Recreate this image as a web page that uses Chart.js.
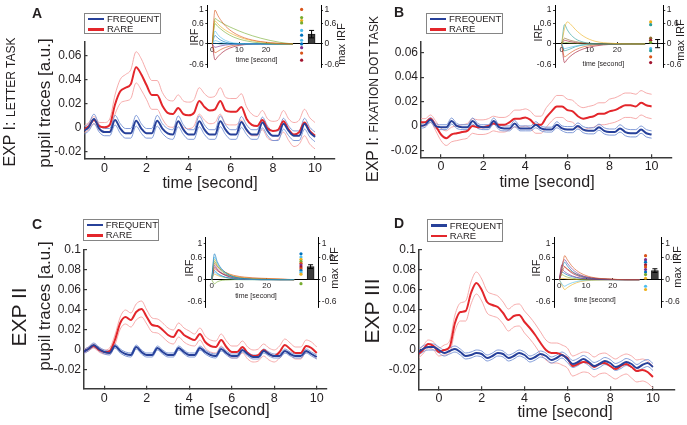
<!DOCTYPE html>
<html>
<head>
<meta charset="utf-8">
<script src="https://cdn.jsdelivr.net/npm/chart.js@4.4.1/dist/chart.umd.min.js"></script>
<style>
  body { margin: 0; background: #fff; }
  #fig { position: relative; width: 687px; height: 425px; overflow: hidden;
         font-family: "Liberation Sans", Arial, Helvetica, sans-serif; color: #231f20; }
  #fig canvas { position: absolute; }
  .lbl { position: absolute; white-space: nowrap; line-height: 1; }
  .legend { position: absolute; border: 1px solid #858585; background: #fff; box-sizing: border-box; }
  .legend .sw { position: absolute; height: 2.5px; width: 16px; }
  .legend .tx { position: absolute; font-size: 9.5px; line-height: 1; transform: translateY(-50%); }
</style>
</head>
<body>
<div id="fig"></div>
<script>
// ---- data ----
const seriesNames = ['FREQUENT', 'RARE'];
const time = [-1, -0.75, -0.5, -0.25, 0, 0.25, 0.5, 0.75, 1, 1.25, 1.5, 1.75, 2, 2.25, 2.5, 2.75,
  3, 3.25, 3.5, 3.75, 4, 4.25, 4.5, 4.75, 5, 5.25, 5.5, 5.75, 6, 6.25, 6.5, 6.75,
  7, 7.25, 7.5, 7.75, 8, 8.25, 8.5, 8.75, 9, 9.25, 9.5, 9.75, 10];

// EXP I: letter task
const freqA = [-0.003, 0.000, 0.007, -0.001, -0.004,
  -0.004, 0.006, -0.001, -0.005,  -0.005, 0.0055, -0.001, -0.005,  -0.005, 0.0055, -0.001, -0.005,
  -0.006, 0.005, -0.002, -0.006,  -0.006, 0.005, -0.002, -0.006,  -0.006, 0.005, -0.002, -0.006,
  -0.006, 0.0045, -0.002, -0.006,  -0.006, 0.004, -0.003, -0.007,  -0.007, 0.003, -0.003, -0.007,
  -0.007, 0.003, -0.004, -0.008];
const freqSemA = [0.003, 0.003, 0.004, 0.003, 0.003,
  0.003, 0.004, 0.004, 0.004,  0.004, 0.0045, 0.004, 0.004,  0.004, 0.0045, 0.004, 0.004,
  0.004, 0.0045, 0.004, 0.004,  0.004, 0.0045, 0.004, 0.004,  0.004, 0.0045, 0.004, 0.004,
  0.004, 0.0045, 0.004, 0.004,  0.004, 0.0045, 0.004, 0.004,  0.004, 0.0045, 0.004, 0.004,
  0.004, 0.0045, 0.004, 0.004];
const rareA = [-0.002, 0.001, 0.006, 0.001, 0.000,
  0.002, 0.019, 0.030, 0.033,  0.036, 0.050, 0.044, 0.035,  0.027, 0.027, 0.018, 0.012,
  0.011, 0.016, 0.011, 0.010,  0.012, 0.022, 0.017, 0.014,  0.015, 0.022, 0.014, 0.013,
  0.013, 0.017, 0.007, 0.002,  0.001, 0.006, -0.001, -0.003,  -0.002, 0.005, -0.002, -0.006,
  -0.004, 0.004, -0.003, -0.007];
const rareSemA = [0.003, 0.003, 0.003, 0.003, 0.004,
  0.005, 0.008, 0.010, 0.011,  0.012, 0.013, 0.013, 0.012,  0.012, 0.012, 0.011, 0.011,
  0.011, 0.011, 0.011, 0.011,  0.011, 0.011, 0.011, 0.011,  0.011, 0.011, 0.011, 0.011,
  0.011, 0.011, 0.010, 0.009,  0.008, 0.008, 0.008, 0.008,  0.008, 0.009, 0.009, 0.010,
  0.010, 0.011, 0.011, 0.011];

// EXP I: fixation dot task
const freqB = [0.000, 0.001, 0.005, 0.000, -0.001,
  -0.001, 0.004, 0.000, -0.001,  -0.001, 0.004, 0.000, -0.001,  -0.001, 0.004, -0.001, -0.002,
  -0.002, 0.002, -0.002, -0.002,  -0.002, 0.001, -0.002, -0.003,  -0.003, 0.001, -0.002, -0.003,
  -0.003, 0.000, -0.003, -0.004,  -0.004, -0.001, -0.004, -0.005,  -0.005, -0.002, -0.005, -0.006,
  -0.006, -0.003, -0.006, -0.007];
const freqSemB = [0.002, 0.002, 0.002, 0.002, 0.002,
  0.002, 0.0025, 0.002, 0.002,  0.002, 0.0025, 0.002, 0.002,  0.002, 0.0025, 0.002, 0.002,
  0.002, 0.0025, 0.002, 0.002,  0.002, 0.0025, 0.002, 0.002,  0.002, 0.0025, 0.002, 0.0025,
  0.0025, 0.0025, 0.0025, 0.0025,  0.0025, 0.0025, 0.0025, 0.0025,  0.0025, 0.003, 0.003, 0.003,
  0.003, 0.003, 0.003, 0.003];
const rareB = [0.003, 0.003, 0.006, 0.000, -0.007,
  -0.010, -0.007, -0.006, -0.005,  -0.004, 0.000, -0.001, -0.001,  0.000, 0.002, 0.001, 0.001,
  0.003, 0.006, 0.006, 0.007,  0.005, 0.001, 0.001, 0.007,  0.012, 0.016, 0.016, 0.013,
  0.012, 0.008, 0.006, 0.007,  0.008, 0.010, 0.010, 0.012,  0.013, 0.015, 0.017, 0.017,
  0.016, 0.019, 0.017, 0.016];
const rareSemB = [0.003, 0.003, 0.003, 0.004, 0.005,
  0.006, 0.006, 0.006, 0.006,  0.006, 0.006, 0.006, 0.006,  0.006, 0.006, 0.006, 0.006,
  0.006, 0.007, 0.007, 0.007,  0.007, 0.007, 0.007, 0.008,  0.008, 0.009, 0.009, 0.009,
  0.009, 0.009, 0.009, 0.009,  0.009, 0.009, 0.009, 0.010,  0.010, 0.010, 0.010, 0.010,
  0.010, 0.010, 0.010, 0.010];

// EXP II
const freqC = [-0.002, 0.001, 0.005, 0.001, -0.002,
  -0.003, 0.004, -0.001, -0.004,  -0.005, 0.003, -0.002, -0.005,  -0.005, 0.002, -0.002, -0.005,
  -0.005, 0.002, -0.002, -0.005,  -0.005, 0.002, -0.002, -0.005,  -0.006, 0.001, -0.003, -0.006,
  -0.006, 0.000, -0.004, -0.007,  -0.007, -0.001, -0.004, -0.006,  -0.006, -0.001, -0.004, -0.006,
  -0.006, -0.001, -0.004, -0.007];
const freqSemC = [0.002, 0.002, 0.002, 0.002, 0.002,
  0.002, 0.002, 0.002, 0.002,  0.002, 0.002, 0.002, 0.002,  0.002, 0.002, 0.002, 0.002,
  0.002, 0.002, 0.002, 0.002,  0.002, 0.002, 0.002, 0.002,  0.002, 0.002, 0.002, 0.002,
  0.002, 0.002, 0.002, 0.002,  0.002, 0.002, 0.002, 0.002,  0.002, 0.002, 0.002, 0.002,
  0.002, 0.002, 0.002, 0.002];
const rareC = [-0.002, 0.001, 0.004, 0.000, -0.002,
  -0.001, 0.010, 0.027, 0.033,  0.030, 0.038, 0.041, 0.033,  0.025, 0.024, 0.020, 0.015,
  0.013, 0.020, 0.015, 0.012,  0.010, 0.016, 0.008, 0.004,  0.003, 0.010, 0.003, -0.002,
  -0.002, 0.003, -0.003, -0.006,  -0.005, 0.000, -0.004, -0.006,  -0.002, 0.005, 0.001, -0.003,
  -0.003, 0.004, 0.002, -0.003];
const rareSemC = [0.002, 0.002, 0.002, 0.002, 0.002,
  0.003, 0.005, 0.006, 0.007,  0.007, 0.008, 0.008, 0.007,  0.007, 0.007, 0.007, 0.007,
  0.007, 0.007, 0.007, 0.007,  0.006, 0.006, 0.006, 0.006,  0.006, 0.006, 0.006, 0.006,
  0.006, 0.006, 0.006, 0.006,  0.006, 0.006, 0.006, 0.006,  0.006, 0.006, 0.006, 0.006,
  0.006, 0.006, 0.006, 0.006];

// EXP III
const freqD = [-0.003, 0.001, 0.003, 0.003, 0.000,
  -0.003, -0.001, 0.001, -0.002,  -0.006, -0.005, -0.003, -0.004,  -0.008, -0.006, -0.003, -0.004,
  -0.008, -0.006, -0.003, -0.005,  -0.009, -0.007, -0.004, -0.006,  -0.010, -0.008, -0.005, -0.009,
  -0.014, -0.012, -0.009, -0.012,  -0.016, -0.014, -0.011, -0.013,  -0.017, -0.015, -0.012, -0.014,
  -0.018, -0.015, -0.013, -0.017];
const freqSemD = [0.003, 0.003, 0.003, 0.003, 0.003,
  0.003, 0.003, 0.003, 0.003,  0.003, 0.003, 0.003, 0.003,  0.003, 0.003, 0.003, 0.003,
  0.003, 0.003, 0.003, 0.003,  0.003, 0.003, 0.003, 0.003,  0.003, 0.003, 0.003, 0.0035,
  0.0035, 0.0035, 0.0035, 0.0035,  0.0035, 0.0035, 0.0035, 0.0035,  0.0035, 0.0035, 0.0035, 0.0035,
  0.0035, 0.0035, 0.0035, 0.0035];
const rareD = [-0.005, 0.000, 0.006, 0.004, -0.002,
  0.000, 0.003, 0.027, 0.038,  0.039, 0.057, 0.067, 0.060,  0.048, 0.045, 0.043, 0.037,
  0.030, 0.034, 0.035, 0.028,  0.022, 0.015, 0.007, 0.000,  -0.003, -0.003, -0.005, -0.008,
  -0.016, -0.014, -0.012, -0.013,  -0.017, -0.014, -0.013, -0.016,  -0.019, -0.016, -0.014, -0.017,
  -0.021, -0.020, -0.022, -0.027];
const rareSemD = [0.004, 0.004, 0.004, 0.004, 0.004,
  0.005, 0.006, 0.008, 0.009,  0.010, 0.011, 0.011, 0.011,  0.011, 0.011, 0.011, 0.011,
  0.011, 0.011, 0.011, 0.011,  0.011, 0.011, 0.011, 0.010,  0.010, 0.010, 0.010, 0.010,
  0.010, 0.010, 0.010, 0.010,  0.010, 0.010, 0.010, 0.010,  0.010, 0.010, 0.010, 0.011,
  0.011, 0.011, 0.011, 0.011];

// inset: impulse response functions per subject, their maxima, and mean max (+ sem)
const irfTime = [0, 1, 2, 3, 5, 8, 12, 18, 25, 30];
const irfA = [
  [0, 1.00, 0.85, 0.72, 0.52, 0.33, 0.18, 0.07, 0.02, 0],
  [0, 0.75, 0.70, 0.65, 0.56, 0.45, 0.32, 0.17, 0.05, 0],
  [0, 0.68, 0.60, 0.52, 0.40, 0.27, 0.15, 0.06, 0.01, 0],
  [0, 0.60, 0.52, 0.45, 0.33, 0.20, 0.10, 0.03, 0, 0],
  [0, 0.38, 0.28, 0.20, 0.10, 0.03, 0.01, 0, 0, 0],
  [0, 0.25, 0.18, 0.12, 0.05, 0.01, 0, 0, 0, 0],
  [0, 0.10, 0.08, 0.05, 0.02, 0, 0, 0, 0, 0],
  [0, 0.02, 0.01, 0, 0, 0, 0, 0, 0, 0],
  [0, -0.10, -0.08, -0.06, -0.03, -0.01, 0, 0, 0, 0],
  [0, -0.26, -0.22, -0.17, -0.10, -0.04, -0.01, 0, 0, 0],
  [0, -0.47, -0.38, -0.30, -0.18, -0.08, -0.02, 0, 0, 0]];
const maxIrfA = [1.02, 0.78, 0.69, 0.62, 0.40, 0.26, 0.11, 0.0, -0.11, -0.27, -0.48];
const meanMaxA = [0.29, 0.11];

const irfB = [
  [0, 0.45, 0.65, 0.60, 0.42, 0.22, 0.08, 0.02, 0, 0],
  [0, 0.57, 0.42, 0.30, 0.15, 0.05, 0.01, 0, 0, 0],
  [0, 0.17, 0.14, 0.11, 0.07, 0.03, 0.01, 0, 0, 0],
  [0, 0.11, 0.09, 0.07, 0.04, 0.02, 0, 0, 0, 0],
  [0, 0.05, 0.04, 0.03, 0.02, 0, 0, 0, 0, 0],
  [0, -0.14, -0.12, -0.10, -0.06, -0.02, 0, 0, 0, 0],
  [0, -0.20, -0.18, -0.15, -0.08, -0.03, -0.01, 0, 0, 0],
  [0, -0.38, -0.33, -0.27, -0.17, -0.08, -0.03, 0, 0, 0],
  [0, -0.55, -0.45, -0.37, -0.25, -0.14, -0.06, -0.01, 0, 0]];
const maxIrfB = [0.65, 0.57, 0.17, 0.11, 0.05, -0.14, -0.20, -0.38, -0.55];
const meanMaxB = [0.01, 0.12];

const irfC = [
  [0, 0.71, 0.50, 0.36, 0.20, 0.08, 0.03, 0.01, 0, 0],
  [0, 0.62, 0.45, 0.33, 0.18, 0.07, 0.02, 0, 0, 0],
  [0, 0.56, 0.42, 0.32, 0.20, 0.10, 0.05, 0.02, 0.01, 0],
  [0, 0.50, 0.38, 0.28, 0.16, 0.07, 0.03, 0.01, 0, 0],
  [0, 0.45, 0.36, 0.29, 0.20, 0.12, 0.07, 0.04, 0.02, 0],
  [0, 0.40, 0.30, 0.22, 0.12, 0.05, 0.02, 0, 0, 0],
  [0, 0.35, 0.27, 0.20, 0.12, 0.06, 0.02, 0.01, 0, 0],
  [0, 0.30, 0.25, 0.20, 0.14, 0.09, 0.05, 0.03, 0.01, 0],
  [0, 0.25, 0.18, 0.13, 0.07, 0.03, 0.01, 0, 0, 0],
  [0, 0.20, 0.15, 0.11, 0.06, 0.02, 0, 0, 0, 0],
  [0, 0.15, 0.12, 0.09, 0.06, 0.03, 0.01, 0, 0, 0],
  [0, -0.11, -0.06, -0.03, -0.01, 0, 0, 0, 0, 0]];
const maxIrfC = [0.71, 0.62, 0.56, 0.50, 0.45, 0.40, 0.35, 0.30, 0.25, 0.20, 0.15, -0.11];
const meanMaxC = [0.36, 0.05];

const irfD = [
  [0, 0.30, 0.66, 0.55, 0.35, 0.18, 0.07, 0.02, 0, 0],
  [0, 0.40, 0.55, 0.45, 0.28, 0.13, 0.05, 0.01, 0, 0],
  [0, 0.30, 0.48, 0.38, 0.22, 0.10, 0.04, 0.01, 0, 0],
  [0, 0.41, 0.35, 0.28, 0.17, 0.08, 0.03, 0.01, 0, 0],
  [0, 0.20, 0.35, 0.30, 0.20, 0.11, 0.05, 0.02, 0, 0],
  [0, 0.28, 0.22, 0.17, 0.10, 0.04, 0.01, 0, 0, 0],
  [0, 0.21, 0.17, 0.13, 0.08, 0.04, 0.02, 0, 0, 0],
  [0, 0.14, 0.10, 0.07, 0.04, 0.01, 0, 0, 0, 0],
  [0, 0.04, 0.03, 0.02, 0.01, 0, 0, 0, 0, 0],
  [0, -0.12, -0.18, -0.14, -0.08, -0.03, -0.01, 0, 0, 0],
  [0, -0.15, -0.27, -0.22, -0.13, -0.05, -0.02, 0, 0, 0]];
const maxIrfD = [0.66, 0.55, 0.48, 0.41, 0.35, 0.28, 0.21, 0.14, 0.04, -0.18, -0.27];
const meanMaxD = [0.25, 0.05];

// tick values
const xTicks = [0, 2, 4, 6, 8, 10];
const yTicksLow = [-0.02, 0, 0.02, 0.04, 0.06];
const yTicksHigh = [-0.02, 0, 0.02, 0.04, 0.06, 0.08, 0.1];
const irfXTicks = [0, 10, 20];
const irfYTicks = [-0.6, 0, 0.6, 1];

// ---- styling ----
const FONT = '"Liberation Sans", Arial, Helvetica, sans-serif';
Chart.defaults.font.family = FONT;
Chart.defaults.color = '#231f20';
const BLUE = '#27419a', BLUE_LT = '#7390d4';
const RED = '#e3262b', RED_LT = '#f5a3a3';
const AXIS = '#3a3a3a';
const M_BLUE = '#0072BD', M_ORANGE = '#D95319', M_YELLOW = '#EDB120', M_PURPLE = '#7E2F8E',
      M_GREEN = '#77AC30', M_CYAN = '#4DBEEE', M_RED = '#A2142F', M_BROWN = '#8c6a2c', M_TEAL = '#2a9d9a';

const fig = document.getElementById('fig');
const fmt = v => String(Math.round(v * 1000) / 1000);
function fixPad(s) { s.paddingLeft = s.paddingRight = s.paddingTop = s.paddingBottom = 0; }

function makeCanvas(box) {
  const c = document.createElement('canvas');
  c.width = box[2]; c.height = box[3];
  c.style.left = box[0] + 'px'; c.style.top = box[1] + 'px';
  c.style.width = box[2] + 'px'; c.style.height = box[3] + 'px';
  fig.appendChild(c);
  return c;
}

function addText(parts, x, y, rot, weight) {
  const d = document.createElement('div');
  d.className = 'lbl';
  parts.forEach(p => {
    const s = document.createElement('span');
    s.textContent = p[0];
    s.style.fontSize = p[1] + 'px';
    d.appendChild(s);
  });
  if (weight) d.style.fontWeight = weight;
  d.style.left = x + 'px';
  d.style.top = y + 'px';
  d.style.transform = 'translate(-50%,-50%)' + (rot ? ' rotate(-90deg)' : '');
  fig.appendChild(d);
}

function addLegend(x, y, w, h) {
  const d = document.createElement('div');
  d.className = 'legend';
  d.style.left = x + 'px'; d.style.top = y + 'px';
  d.style.width = w + 'px'; d.style.height = h + 'px';
  [[BLUE, seriesNames[0], 5.4], [RED, seriesNames[1], 15.8]].forEach(r => {
    const sw = document.createElement('div');
    sw.className = 'sw';
    sw.style.background = r[0];
    sw.style.left = '3px'; sw.style.top = (r[2] - 1.2) + 'px';
    const tx = document.createElement('div');
    tx.className = 'tx';
    tx.textContent = r[1];
    tx.style.left = '22px'; tx.style.top = r[2] + 'px';
    d.appendChild(sw); d.appendChild(tx);
  });
  fig.appendChild(d);
}

function mainChart(p) {
  const c = makeCanvas(p.box);
  const line = (vals, sem, k, color, w) => ({
    data: time.map((t, i) => ({x: t, y: vals[i] + k * sem[i]})),
    borderColor: color, borderWidth: w, pointRadius: 0,
    cubicInterpolationMode: 'monotone'
  });
  new Chart(c, {
    type: 'line',
    data: {datasets: [
      line(p.freq, p.freqSem, 0, BLUE, 2),
      line(p.rare, p.rareSem, 0, RED, 2),
      line(p.freq, p.freqSem, 1, BLUE_LT, 0.9),
      line(p.freq, p.freqSem, -1, BLUE_LT, 0.9),
      line(p.rare, p.rareSem, 1, RED_LT, 0.9),
      line(p.rare, p.rareSem, -1, RED_LT, 0.9)
    ]},
    options: {
      responsive: false, animation: false, events: [],
      layout: {padding: {top: p.area[1] - p.box[1], right: p.box[0] + p.box[2] - p.area[2], left: 0, bottom: 0}},
      plugins: {legend: {display: false}, tooltip: {enabled: false}},
      scales: {
        x: {
          type: 'linear', min: p.x[0], max: p.x[1], offset: false,
          afterBuildTicks: s => { s.ticks = xTicks.map(v => ({value: v})); },
          afterFit: s => { s.height = p.box[1] + p.box[3] - p.area[3]; fixPad(s); },
          ticks: {font: {size: 12.5}, padding: 5, maxRotation: 0, autoSkip: false, callback: fmt},
          grid: {drawOnChartArea: false, tickLength: -3, color: AXIS, lineWidth: 1.2},
          border: {color: AXIS, width: 1.5}
        },
        y: {
          min: p.y[0], max: p.y[1],
          afterBuildTicks: s => { s.ticks = p.yTicks.map(v => ({value: v})); },
          afterFit: s => { s.width = p.area[0] - p.box[0]; fixPad(s); },
          ticks: {font: {size: 12}, padding: 6, autoSkip: false, callback: fmt},
          grid: {drawOnChartArea: false, tickLength: -3, color: AXIS, lineWidth: 1.2},
          border: {color: AXIS, width: 1.5}
        }
      }
    }
  });
}

function insetChart(p) {
  const c = makeCanvas(p.box);
  const ds = [];
  ds.push({type: 'line', yAxisID: 'y2',
    data: [{x: p.barX, y: p.mean[0] - p.mean[1]}, {x: p.barX, y: p.mean[0] + p.mean[1]}],
    borderColor: '#000', borderWidth: 1, pointStyle: 'line', pointRadius: 2.5,
    pointBorderColor: '#000', pointBorderWidth: 1});
  ds.push({type: 'bar', yAxisID: 'y2', data: [{x: p.barX, y: p.mean[0]}],
    backgroundColor: '#3c3c3c', borderColor: '#111', borderWidth: 0.8, barThickness: 7});
  ds.push({type: 'line', yAxisID: 'y2', showLine: false,
    data: p.maxIrf.map(v => ({x: p.dotX, y: v})),
    pointRadius: 1.6, pointBorderWidth: 0, pointBackgroundColor: p.colors});
  p.irf.forEach((vals, i) => ds.push({type: 'line', yAxisID: 'y',
    data: irfTime.map((t, j) => ({x: t, y: vals[j]})),
    borderColor: p.colors[i] + 'b0', borderWidth: 0.9, pointRadius: 0, cubicInterpolationMode: 'monotone'}));
  const yScale = (pos, width) => ({
    position: pos, min: p.y[0], max: p.y[1],
    afterBuildTicks: s => { s.ticks = irfYTicks.map(v => ({value: v})); },
    afterFit: s => { s.width = width; fixPad(s); },
    ticks: {font: {size: 8.5}, padding: 1.5, autoSkip: false, callback: fmt},
    grid: {drawOnChartArea: false, tickLength: 2, color: '#000', lineWidth: 0.8},
    border: {color: '#000', width: 1}
  });
  new Chart(c, {
    type: 'line',
    data: {datasets: ds},
    options: {
      responsive: false, animation: false, events: [],
      layout: {padding: {top: p.area[1] - p.box[1], bottom: p.box[1] + p.box[3] - p.area[3], left: 0, right: 0}},
      plugins: {legend: {display: false}, tooltip: {enabled: false}},
      scales: {
        x: {
          type: 'linear', position: {y: 0}, min: p.x[0], max: p.x[1], offset: false,
          afterBuildTicks: s => { s.ticks = irfXTicks.map(v => ({value: v})); },
          afterFit: fixPad,
          ticks: {font: {size: 8}, padding: 3.2, maxRotation: 0, autoSkip: false, callback: fmt},
          grid: {drawOnChartArea: false, offset: false, tickLength: -2, color: '#000', lineWidth: 0.8},
          border: {color: '#000', width: 1}
        },
        y: yScale('left', p.area[0] - p.box[0]),
        y2: yScale('right', p.box[0] + p.box[2] - p.area[2])
      }
    }
  });
}

// ---- panels ----
mainChart({box: [0, 0, 345, 200], area: [84.5, 42, 335, 159], x: [-0.95, 10.95], y: [-0.0264, 0.0711],
  yTicks: yTicksLow, freq: freqA, freqSem: freqSemA, rare: rareA, rareSem: rareSemA});
mainChart({box: [345, 0, 342, 200], area: [421, 41.7, 671.6, 157.3], x: [-0.95, 10.95], y: [-0.0257, 0.0691],
  yTicks: yTicksLow, freq: freqB, freqSem: freqSemB, rare: rareB, rareSem: rareSemB});
mainChart({box: [0, 212, 345, 205], area: [84, 250, 326.3, 388.7], x: [-0.956, 10.45], y: [-0.0387, 0.1],
  yTicks: yTicksHigh, freq: freqC, freqSem: freqSemC, rare: rareC, rareSem: rareSemC});
mainChart({box: [345, 212, 342, 205], area: [419, 250, 675, 389.3], x: [-0.93, 11.03], y: [-0.0393, 0.1],
  yTicks: yTicksHigh, freq: freqD, freqSem: freqSemD, rare: rareD, rareSem: rareSemD});

insetChart({box: [180, 0, 160, 72], area: [207.3, 1.3, 321, 68.1], x: [-1.86, 40.4], y: [-0.68, 1.15],
  irf: irfA, maxIrf: maxIrfA, mean: meanMaxA, dotX: 33.2, barX: 36.9,
  colors: [M_ORANGE, M_GREEN, M_YELLOW, M_GREEN, M_CYAN, M_BLUE, M_CYAN, M_BLUE, M_PURPLE, M_ORANGE, M_RED]});
insetChart({box: [525, 0, 160, 72], area: [555, 1.3, 663.3, 68.1], x: [-2.41, 36.55], y: [-0.68, 1.15],
  irf: irfB, maxIrf: maxIrfB, mean: meanMaxB, dotX: 32.0, barX: 34.5,
  colors: [M_YELLOW, M_TEAL, M_BROWN, M_RED, M_GREEN, M_CYAN, M_TEAL, M_ORANGE, M_RED]});
insetChart({box: [178, 232, 160, 80], area: [205.7, 237.8, 318.3, 308.7], x: [-2.18, 38.8], y: [-0.75, 1.15],
  irf: irfC, maxIrf: maxIrfC, mean: meanMaxC, dotX: 32.5, barX: 36,
  colors: [M_BLUE, M_CYAN, M_YELLOW, M_GREEN, M_ORANGE, M_PURPLE, M_RED, M_ORANGE, M_BLUE, M_CYAN, M_YELLOW, M_GREEN]});
insetChart({box: [525, 232, 160, 80], area: [554, 237.8, 661.7, 308.7], x: [-1.99, 38.35], y: [-0.75, 1.15],
  irf: irfD, maxIrf: maxIrfD, mean: meanMaxD, dotX: 32.3, barX: 35.8,
  colors: [M_ORANGE, M_PURPLE, M_BLUE, M_RED, M_ORANGE, M_PURPLE, M_BLUE, M_GREEN, M_YELLOW, M_CYAN, M_YELLOW]});

// ---- text ----
addText([['A', 14]], 37, 13, false, 'bold');
addText([['B', 14]], 399, 12, false, 'bold');
addText([['C', 14]], 37, 224, false, 'bold');
addText([['D', 14]], 399, 223, false, 'bold');

addText([['EXP I: ', 16], ['LETTER TASK', 12]], 10, 102, true);
addText([['EXP I: ', 16], ['FIXATION DOT TASK', 12]], 372.5, 98.5, true);
addText([['EXP II', 21]], 17.5, 317, true);
addText([['EXP III', 21]], 370.8, 311, true);

addText([['pupil traces [a.u.]', 17]], 44, 103, true);
addText([['pupil traces [a.u.]', 17]], 44, 306, true);

addText([['time [second]', 16]], 210, 183);
addText([['time [second]', 16]], 547, 182);
addText([['time [second]', 16]], 222, 410);
addText([['time [second]', 16]], 565, 412);

addText([['IRF', 10.5]], 192.5, 37, true);
addText([['IRF', 10.5]], 537, 33, true);
addText([['IRF', 10.5]], 188, 268, true);
addText([['IRF', 10.5]], 535, 268, true);
addText([['max IRF', 11]], 340, 44, true);
addText([['max IRF', 11]], 679, 40, true);
addText([['max IRF', 11]], 333, 268, true);
addText([['max IRF', 11]], 676, 267, true);
addText([['time [second]', 7]], 256.7, 57.3);
addText([['time [second]', 7]], 603.3, 60.7);
addText([['time [second]', 7]], 256, 292.7);
addText([['time [second]', 7]], 595, 296.7);

addLegend(84, 12.7, 77, 21.5);
addLegend(426, 12.7, 76.5, 21.5);
addLegend(82.7, 218.7, 76.5, 22.5);
addLegend(426.7, 219.3, 76, 22.5);
</script>
</body>
</html>
